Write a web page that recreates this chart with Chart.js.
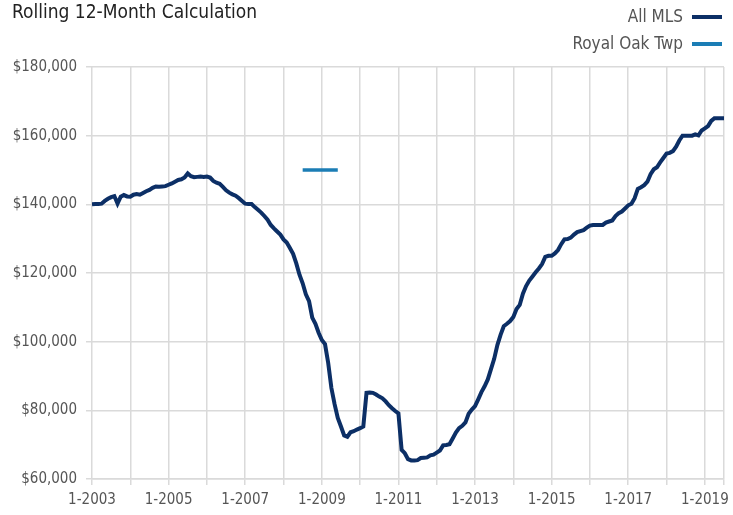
<!DOCTYPE html>
<html>
<head>
<meta charset="utf-8">
<script src="https://cdn.jsdelivr.net/npm/chart.js"></script>
<style>
  body { margin:0; padding:0; background:#fff; }
  #wrap { position:relative; width:733px; height:515px; }
  #title { position:absolute; left:12px; top:0px; font:19px 'Liberation Sans Narrow','DejaVu Sans Condensed',Arial,sans-serif; color:#222; white-space:nowrap; }
  #legend { position:absolute; right:11px; top:3px; font:17px 'Liberation Sans Narrow','DejaVu Sans Condensed',Arial,sans-serif; color:#555; text-align:right; }
  #legend .item { height:27px; line-height:27px; white-space:nowrap; }
  #legend .swatch { display:inline-block; width:30px; height:4px; vertical-align:middle; margin-left:9px; margin-top:-1px; }
</style>
</head>
<body>
<div id="wrap">
  <canvas id="chartCanvas"></canvas>
  <div id="title">Rolling 12-Month Calculation</div>
  <div id="legend"></div>
</div>
<script>
// monthly values, 1-2003 .. 7-2019
const allMls = [
  140000, 140100, 140100, 140200, 141000, 141600, 142100, 142400, 140200, 142200, 142700, 142300, // 2003
  142200, 142800, 143000, 142800, 143300, 143800, 144200, 144800, 145200, 145100, 145200, 145300, // 2004
  145700, 146100, 146600, 147100, 147300, 147800, 149000, 148200, 147900, 148000, 148100, 148000, // 2005
  148100, 147800, 146800, 146300, 146000, 145100, 144100, 143400, 142900, 142500, 141800, 141000, // 2006
  140200, 140100, 140100, 139200, 138400, 137600, 136600, 135500, 134000, 133000, 132100, 131200, // 2007
  129800, 128900, 127300, 125600, 122800, 119500, 117000, 113800, 111800, 107000, 105200, 102600, // 2008
  100500, 99300, 93800, 86500, 81800, 77800, 75300, 72700, 72300, 73600, 73900, 74400,             // 2009
  74800, 75300, 85100, 85200, 85100, 84600, 84000, 83500, 82600, 81500, 80600, 79800,              // 2010
  79100, 68500, 67500, 65800, 65400, 65400, 65500, 66100, 66200, 66300, 66900, 67100,              // 2011
  67700, 68300, 69800, 69900, 70100, 71800, 73500, 74800, 75500, 76500, 79000, 80200,              // 2012
  81200, 83200, 85300, 87000, 89000, 92000, 95000, 99000, 102000, 104500, 105200, 106000,          // 2013
  107200, 109500, 110700, 114000, 116200, 117800, 119000, 120200, 121300, 122600, 124700, 125000, // 2014
  125000, 125700, 126700, 128400, 129800, 129900, 130300, 131200, 131900, 132200, 132500, 133200, // 2015
  133800, 134000, 134000, 134000, 134000, 134700, 135000, 135300, 136600, 137400, 137900, 138800, // 2016
  139700, 140200, 141800, 144500, 145000, 145600, 146600, 148800, 150200, 150800, 152200, 153500, // 2017
  154800, 155000, 155500, 156800, 158600, 160000, 160000, 160000, 160000, 160400, 160100, 161500, // 2018
  162100, 162800, 164300, 165100, 165100, 165100, 165100                                          // 2019
];
// Royal Oak Twp only has values 7-2008 .. 6-2009 (month index 66..77)
const royalOakStart = 66;
const royalOak = [150000, 150000, 150000, 150000, 150000, 150000, 150000, 150000, 150000, 150000, 150000, 150000];

const xTickLabels = ['1-2003', '1-2005', '1-2007', '1-2009', '1-2011', '1-2013', '1-2015', '1-2017', '1-2019'];
const yTicks = [60000, 80000, 100000, 120000, 140000, 160000, 180000];

const seriesNames = ['All MLS', 'Royal Oak Twp'];
const seriesColors = ['#0c2f66', '#1b7db5'];

const fontFam = "'Liberation Sans Narrow','DejaVu Sans Condensed',Arial,sans-serif";
const gridColor = '#dadada';
const lastIdx = allMls.length - 1;

const datasets = [
  {
    label: seriesNames[0],
    data: allMls.map((v, i) => ({ x: i, y: v })),
    borderColor: seriesColors[0],
    borderWidth: 4,
    pointRadius: 0,
    tension: 0
  },
  {
    label: seriesNames[1],
    data: royalOak.map((v, i) => ({ x: royalOakStart + i, y: v })),
    borderColor: seriesColors[1],
    borderWidth: 3.5,
    pointRadius: 0,
    tension: 0
  }
];

const chart = new Chart(document.getElementById('chartCanvas'), {
  type: 'line',
  data: { datasets: datasets },
  options: {
    responsive: true,
    maintainAspectRatio: false,
    animation: false,
    layout: { padding: { left: 0, right: 9, top: 67, bottom: 0 } },
    plugins: {
      legend: { display: false },
      title: { display: false },
      tooltip: { enabled: false }
    },
    scales: {
      x: {
        type: 'linear',
        min: 0,
        max: lastIdx,
        afterBuildTicks: (scale) => {
          const t = [];
          for (let v = 0; v <= lastIdx; v += 12) t.push({ value: v });
          t.push({ value: lastIdx });
          scale.ticks = t;
        },
        afterFit: (scale) => { scale.height = 36; },
        ticks: {
          autoSkip: false,
          maxRotation: 0,
          padding: 6,
          color: '#555',
          font: { family: fontFam, size: 15 },
          callback: (v) => (v % 24 === 0 ? xTickLabels[v / 24] : '')
        },
        grid: { color: gridColor, lineWidth: 1.5, tickLength: 6 },
        border: { color: gridColor, width: 1.5 }
      },
      y: {
        min: 60000,
        max: 180000,
        afterBuildTicks: (scale) => { scale.ticks = yTicks.map(v => ({ value: v })); },
        afterFit: (scale) => { scale.width = 92; },
        ticks: {
          padding: 9,
          color: '#555',
          font: { family: fontFam, size: 15 },
          callback: (v) => '$' + v.toLocaleString('en-US')
        },
        grid: { color: gridColor, lineWidth: 1.5, tickLength: 6 },
        border: { display: false }
      }
    }
  }
});

// legend built from the datasets
const legendEl = document.getElementById('legend');
chart.data.datasets.forEach(ds => {
  const row = document.createElement('div');
  row.className = 'item';
  row.innerHTML = '<span>' + ds.label + '</span><span class="swatch" style="background:' + ds.borderColor + '"></span>';
  legendEl.appendChild(row);
});
</script>
</body>
</html>
